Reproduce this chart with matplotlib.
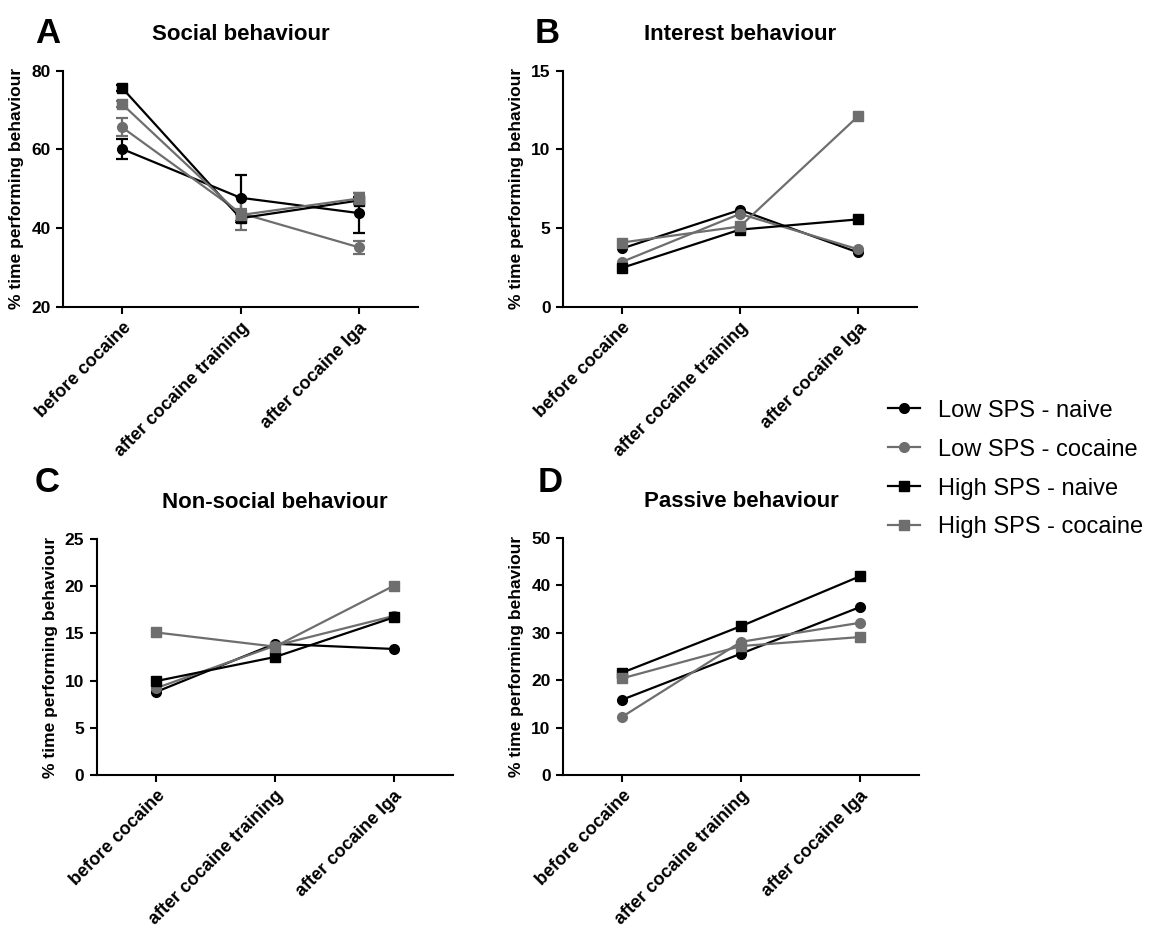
import numpy as np
import matplotlib
matplotlib.use('Agg')
import matplotlib.pyplot as plt

plt.rcParams['font.family'] = ['Liberation Sans', 'DejaVu Sans']
plt.rcParams['font.weight'] = 'bold'

timepoints = ['before cocaine', 'after cocaine training', 'after cocaine Iga']
groups = ['Low SPS - naive', 'Low SPS - cocaine', 'High SPS - naive', 'High SPS - cocaine']

# one row per group, one value per timepoint
social = [[60.1, 47.7, 43.8], [65.6, 43.8, 35.1], [75.6, 42.5, 47.0], [71.5, 43.3, 47.5]]
social_err = [[2.6, 5.9, 5.1], [2.3, 4.2, 1.7], [0.8, 1.0, 1.0], [0.8, 1.5, 1.5]]
interest = [[3.7, 6.15, 3.45], [2.85, 5.9, 3.65], [2.47, 4.9, 5.55], [4.08, 5.1, 12.1]]
nonsocial = [[8.8, 13.9, 13.35], [9.2, 13.7, 16.85], [9.95, 12.5, 16.7], [15.1, 13.6, 20.05]]
passive = [[15.9, 25.6, 35.4], [12.3, 28.1, 32.1], [21.6, 31.4, 41.9], [20.4, 27.2, 29.1]]

colors = ['black', '#6e6e6e', 'black', '#6e6e6e']
markers = ['o', 'o', 's', 's']

panels = [
    ('A', 'Social behaviour', social, social_err, (20, 80), [20, 40, 60, 80]),
    ('B', 'Interest behaviour', interest, None, (0, 15), [0, 5, 10, 15]),
    ('C', 'Non-social behaviour', nonsocial, None, (0, 25), [0, 5, 10, 15, 20, 25]),
    ('D', 'Passive behaviour', passive, None, (0, 50), [0, 10, 20, 30, 40, 50]),
]

W, H = 1159, 926
# axes boxes in pixels: left, right, top, bottom
boxes = [(63, 418, 70.7, 306.7), (563, 917, 70.7, 306.7),
         (96.7, 453.3, 539, 775), (563, 919, 538, 775)]
letter_pos = [(35, 43), (535, 43), (35, 492), (538, 492)]

fig = plt.figure(figsize=(W / 100, H / 100), dpi=100)

x = np.arange(len(timepoints))
for (letter, title, data, err, ylim, yticks), (l, r, t, b), (lx, ly) in zip(panels, boxes, letter_pos):
    ax = fig.add_axes([l / W, 1 - b / H, (r - l) / W, (b - t) / H])
    for i, g in enumerate(groups):
        if err is not None:
            ax.errorbar(x, data[i], yerr=err[i], color=colors[i], marker=markers[i],
                        markersize=7, linewidth=1.6, elinewidth=1.6, capsize=4,
                        capthick=1.6, label=g, clip_on=False)
        else:
            ax.plot(x, data[i], color=colors[i], marker=markers[i], markersize=7,
                    linewidth=1.6, label=g, clip_on=False)
    ax.set_xlim(-0.5, 2.5)
    ax.set_ylim(*ylim)
    ax.set_yticks(yticks)
    ax.set_xticks(x)
    ax.set_xticklabels(timepoints, rotation=45, ha='right', rotation_mode='anchor', fontsize=13)
    ax.spines['top'].set_visible(False)
    ax.spines['right'].set_visible(False)
    for s in ['left', 'bottom']:
        ax.spines[s].set_linewidth(1.5)
    ax.tick_params(direction='out', length=5, width=1.5, pad=4)
    ax.tick_params(axis='y', labelsize=12.5)
    ax.set_ylabel('% time performing behaviour', fontsize=12.5, fontweight='bold', labelpad=5)
    ax.set_title(title, fontsize=16, fontweight='bold', pad=22)
    fig.text(lx / W, 1 - ly / H, letter, fontsize=25, fontweight='bold', va='baseline')

handles = [plt.Line2D([], [], color=colors[i], marker=markers[i], markersize=7, linewidth=1.6)
           for i in range(len(groups))]
fig.legend(handles, groups, loc='center left', bbox_to_anchor=(888 / W, 1 - 469 / H),
           frameon=False, borderpad=0, borderaxespad=0, handlelength=1.35,
           handletextpad=0.75, labelspacing=0.72,
           prop={'family': 'Liberation Sans', 'weight': 'normal', 'size': 17})

fig.savefig('out.png', dpi=100)
